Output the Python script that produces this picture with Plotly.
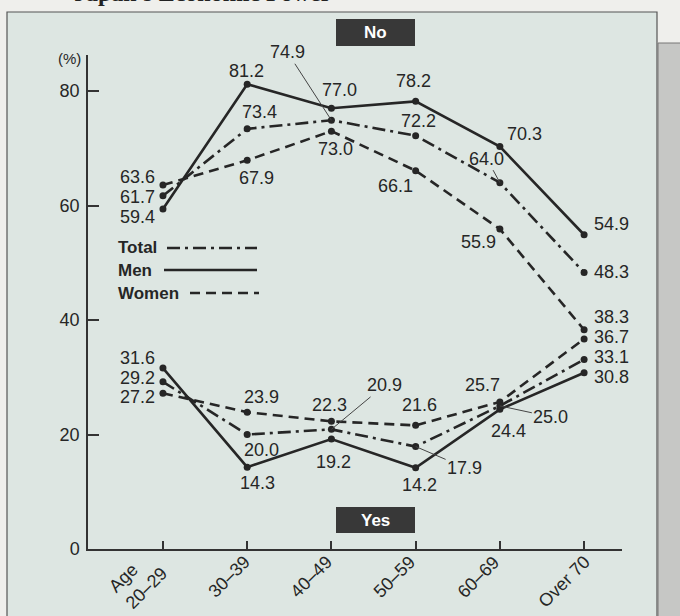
import plotly.graph_objects as go

# ---------------- data ----------------
age_groups = ["Age<br>20–29", "30–39", "40–49", "50–59", "60–69", "Over 70"]
men_no = [59.4, 81.2, 77.0, 78.2, 70.3, 54.9]
total_no = [61.7, 73.4, 74.9, 72.2, 64.0, 48.3]
women_no = [63.6, 67.9, 73.0, 66.1, 55.9, 38.3]
men_yes = [31.6, 14.3, 19.2, 14.2, 24.4, 30.8]
total_yes = [29.2, 20.0, 20.9, 17.9, 25.0, 33.1]
women_yes = [27.2, 23.9, 22.3, 21.6, 25.7, 36.7]
y_ticks = [0, 20, 40, 60, 80]

# ---------------- layout geometry (pixels) ----------------
W, H = 680, 616
PL, PR, PT, PB = 88, 622, 55, 549  # plot area pixel box
XR = [-0.89, 5.45]
YR = [0, 86.3]

def px(x):
    return (x - PL) / (PR - PL)

def py(y):
    return (PB - y) / (PB - PT)

INK = "#262626"
FONT = "Liberation Sans, Arial, sans-serif"
LBL = dict(family=FONT, size=18, color=INK)
xs = list(range(len(age_groups)))

fig = go.Figure()

styles = {
    "Men": dict(dash="solid", width=2.6),
    "Total": dict(dash="13px,5px,3px,5px", width=2.6),
    "Women": dict(dash="10px,6px", width=2.6),
}
series = [
    ("Men", men_no), ("Total", total_no), ("Women", women_no),
    ("Men", men_yes), ("Total", total_yes), ("Women", women_yes),
]
for name, vals in series:
    st = styles[name]
    fig.add_trace(go.Scatter(
        x=xs, y=vals, mode="lines+markers", name=name, showlegend=False,
        line=dict(color=INK, width=st["width"], dash=st["dash"]),
        marker=dict(color=INK, size=7),
        hovertemplate=name + ": %{y}<extra></extra>",
    ))

# ---------------- value labels near points: (values, index, dx, dy) ----------------
plain = [
    (men_no, 1, -1, -13), (men_no, 2, 8, -18), (men_no, 3, -2, -20), (men_no, 4, 25, -13),
    (total_no, 1, 12, -17), (total_no, 3, 3, -15),
    (women_no, 1, 9, 18), (women_no, 2, 4, 18), (women_no, 3, -20, 15), (women_no, 4, -21, 13),
    (men_yes, 1, 10, 16), (men_yes, 2, 2, 23), (men_yes, 3, 4, 17), (men_yes, 4, 9, 22),
    (total_yes, 1, 14, 15),
    (women_yes, 1, 14, -15), (women_yes, 2, -2, -16), (women_yes, 3, 4, -20), (women_yes, 4, -17, -17),
]
for vals, i, dx, dy in plain:
    fig.add_annotation(x=i, y=vals[i], text=f"{vals[i]:.1f}", showarrow=False,
                       xanchor="center", yanchor="middle", xshift=dx, yshift=-dy, font=LBL)

# stacked label columns at the first and last age group: (values, index, label centre y px)
left_col = [(women_no, 0, 177), (total_no, 0, 197), (men_no, 0, 217),
            (men_yes, 0, 358), (total_yes, 0, 378), (women_yes, 0, 397)]
for vals, i, ly in left_col:
    fig.add_annotation(xref="paper", yref="paper", x=px(157), y=py(ly), xanchor="right",
                       yanchor="middle", text=f"{vals[i]:.1f}", showarrow=False, font=LBL)
right_col = [(men_no, 5, 224), (total_no, 5, 272), (women_no, 5, 317),
             (women_yes, 5, 337), (total_yes, 5, 357), (men_yes, 5, 377)]
for vals, i, ly in right_col:
    fig.add_annotation(xref="paper", yref="paper", x=px(592), y=py(ly), xanchor="left",
                       yanchor="middle", text=f"{vals[i]:.1f}", showarrow=False, font=LBL)

leaders = [
    (total_no, 2, -44, -68), (total_no, 4, -13, -24),
    (total_yes, 2, 53, -44), (total_yes, 3, 49, 21), (total_yes, 4, 51, 11),
]
for vals, i, ax, ay in leaders:
    fig.add_annotation(x=i, y=vals[i], text=f"{vals[i]:.1f}", showarrow=True,
                       arrowhead=0, arrowwidth=1, arrowcolor="#444", ax=ax, ay=ay,
                       standoff=0, font=LBL)

# ---------------- x tick labels (rotated) ----------------
tick_shift = [(11, 5), (9, 0), (7, 0), (6, 0), (6, 0), (12, 0)]
for i, lab in enumerate(age_groups):
    sx, sy = tick_shift[i]
    fig.add_annotation(x=i, xref="x", yref="paper", y=py(549), xanchor="right", yanchor="top",
                       text=lab, textangle=-45, align="left", showarrow=False,
                       xshift=sx, yshift=sy, font=LBL)

# ---------------- background panel, side box ----------------
shapes = [
    dict(type="rect", xref="paper", yref="paper", x0=px(7), x1=px(657), y0=py(630), y1=py(12),
         fillcolor="#dde6e2", line=dict(color="#555", width=1.2), layer="below"),
    dict(type="rect", xref="paper", yref="paper", x0=px(658), x1=px(690), y0=py(630), y1=py(43),
         fillcolor="#c6c7c5", line=dict(color="#777", width=1), layer="below"),
    # No / Yes boxes
    dict(type="rect", xref="paper", yref="paper", x0=px(336), x1=px(415), y0=py(46), y1=py(19),
         fillcolor="#383838", line=dict(width=0)),
    dict(type="rect", xref="paper", yref="paper", x0=px(336), x1=px(415), y0=py(533), y1=py(507),
         fillcolor="#383838", line=dict(width=0)),
]
# legend: bold names followed by line samples
legend_items = [("Total", 248, 167, 257), ("Men", 270, 164, 257), ("Women", 293, 190, 259)]
for name, ly, lx0, lx1 in legend_items:
    st = styles[name]
    shapes.append(dict(type="line", xref="paper", yref="paper", x0=px(lx0), x1=px(lx1),
                       y0=py(ly), y1=py(ly), line=dict(color=INK, width=st["width"], dash=st["dash"])))
    fig.add_annotation(xref="paper", yref="paper", x=px(116), y=py(ly), xanchor="left",
                       yanchor="middle", text=f"<b>{name}</b>", showarrow=False,
                       font=dict(family=FONT, size=17, color=INK))

fig.add_annotation(xref="paper", yref="paper", x=px(375.5), y=py(32.5), xanchor="center",
                   yanchor="middle", text="<b>No</b>", showarrow=False,
                   font=dict(family=FONT, size=17, color="white"))
fig.add_annotation(xref="paper", yref="paper", x=px(375.5), y=py(520), xanchor="center",
                   yanchor="middle", text="<b>Yes</b>", showarrow=False,
                   font=dict(family=FONT, size=17, color="white"))
fig.add_annotation(xref="paper", yref="paper", x=px(83), y=py(58), xanchor="right",
                   yanchor="middle", text="(%)", showarrow=False,
                   font=dict(family=FONT, size=15, color=INK))
fig.add_annotation(xref="paper", yref="paper", x=px(72), y=py(8), xanchor="left", yanchor="bottom",
                   text="<b>Japan's Economic Power</b>", showarrow=False,
                   font=dict(family="Liberation Serif, serif", size=24, color="#222"))

fig.update_layout(
    width=W, height=H,
    margin=dict(l=PL, r=W - PR, t=PT, b=H - PB, pad=0, autoexpand=False),
    paper_bgcolor="#efefec", plot_bgcolor="rgba(0,0,0,0)",
    shapes=shapes, showlegend=False,
    font=dict(family=FONT, color=INK),
    xaxis=dict(range=XR, tickvals=xs, showticklabels=False, automargin=False,
               showline=True, linecolor="#333", linewidth=1.5, ticks="inside", ticklen=8,
               tickcolor="#333", tickwidth=1.5, showgrid=False, zeroline=False, fixedrange=True),
    yaxis=dict(range=YR, tickvals=y_ticks, automargin=False, showline=True, linecolor="#333",
               linewidth=1.5, ticks="inside", ticklen=11, tickcolor="#333", tickwidth=1.5,
               ticklabelstandoff=3, showgrid=False, zeroline=False,
               tickfont=dict(family=FONT, size=18, color=INK), fixedrange=True),
)

fig.write_html("out.html", config={"displayModeBar": False},
               post_script="document.body.style.margin='0';")
